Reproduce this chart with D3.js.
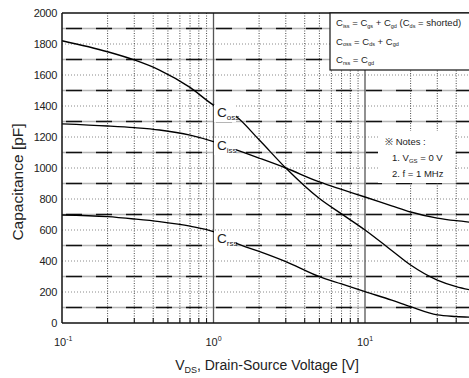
<!DOCTYPE html>
<html>
<head>
<meta charset="utf-8">
<script src="https://cdn.jsdelivr.net/npm/d3@7"></script>
<style>
  html, body { margin: 0; padding: 0; background: #fff; }
  svg { display: block; font-family: "Liberation Sans", Arial, sans-serif; }
</style>
</head>
<body>
<svg id="chart" width="469" height="378"></svg>
<script>
// Drain-source voltage sample points [V]
const vds = [0.1, 0.2, 0.3, 0.44, 0.7, 1, 1.4, 2, 3, 5, 7, 10, 15, 20, 30, 40, 50];
// Capacitances [pF] at each vds point
const ciss = [1285, 1271, 1260, 1245, 1212, 1170, 1118, 1064, 1000, 910, 862, 813, 756, 716, 677, 660, 650];
const coss = [1821, 1750, 1697, 1632, 1520, 1406, 1335, 1182, 1000, 803, 704, 600, 468, 374, 277, 235, 213];
const crss = [697, 686, 671, 654, 625, 589, 515, 462, 396, 299, 252, 202, 148, 105, 52, 42, 37];

const yTicks = [0, 200, 400, 600, 800, 1000, 1200, 1400, 1600, 1800, 2000];
const yDashed = [100, 300, 500, 700, 900, 1100, 1300, 1500, 1700, 1900];
const xTicks = [{ v: 0.1, exp: "-1" }, { v: 1, exp: "0" }, { v: 10, exp: "1" }];

const svg = d3.select("#chart");
const plotLeft = 62, plotTop = 13, plotBottom = 323;
const x = d3.scaleLog().domain([0.1, 50]).range([plotLeft, plotLeft + 151.5 * Math.log10(500)]);
const y = d3.scaleLinear().domain([0, 2000]).range([plotBottom, plotTop]);
const plotRight = x.range()[1];

// minor decade positions (2..9 of each decade)
const minor = [];
[0.1, 1, 10].forEach(d => { for (let k = 2; k <= 9; k++) { const v = d * k; if (v <= 50) minor.push(v); } });

const grid = svg.append("g");
// even-hundred dotted lines
grid.selectAll(".hdot").data(yTicks.filter(t => t > 0 && t < 2000)).join("line")
  .attr("x1", plotLeft).attr("x2", plotRight)
  .attr("y1", d => y(d)).attr("y2", d => y(d))
  .attr("stroke", "#8a8a8a").attr("stroke-width", 1).attr("stroke-dasharray", "1,2");
// odd-hundred lines: grey base with black dashes
grid.selectAll(".hbase").data(yDashed).join("line")
  .attr("x1", plotLeft).attr("x2", plotRight)
  .attr("y1", d => y(d)).attr("y2", d => y(d))
  .attr("stroke", "#b5b5b5").attr("stroke-width", 1.3);
grid.selectAll(".hdash").data(yDashed).join("line")
  .attr("x1", plotLeft).attr("x2", plotRight)
  .attr("y1", d => y(d)).attr("y2", d => y(d))
  .attr("stroke", "#111").attr("stroke-width", 1.3).attr("stroke-dasharray", "16,14")
  .attr("stroke-dashoffset", -4);
// minor vertical dotted lines
grid.selectAll(".vdot").data(minor).join("line")
  .attr("x1", d => x(d)).attr("x2", d => x(d))
  .attr("y1", plotTop).attr("y2", plotBottom)
  .attr("stroke", "#333").attr("stroke-width", 0.9).attr("stroke-dasharray", "1,1.5");
// decade lines
grid.selectAll(".vdec").data([1, 10]).join("line")
  .attr("x1", d => x(d)).attr("x2", d => x(d))
  .attr("y1", plotTop).attr("y2", plotBottom)
  .attr("stroke", "#555").attr("stroke-width", 1.3);

// minor ticks on bottom axis
svg.append("g").selectAll("line").data(minor).join("line")
  .attr("x1", d => x(d)).attr("x2", d => x(d))
  .attr("y1", plotBottom).attr("y2", plotBottom - 5)
  .attr("stroke", "#111").attr("stroke-width", 1);

// notes background
svg.append("rect").attr("x", 378).attr("y", 131).attr("width", 77).attr("height", 52).attr("fill", "#fff");

// curves
const line = d3.line().x((d, i) => x(vds[i])).y(d => y(d)).curve(d3.curveMonotoneX);
[ciss, coss, crss].forEach(s => {
  svg.append("path").attr("d", line(s)).attr("fill", "none")
    .attr("stroke", "#000").attr("stroke-width", 1.35);
});

// frame
svg.append("line").attr("x1", plotLeft).attr("x2", plotRight).attr("y1", plotTop).attr("y2", plotTop).attr("stroke", "#111").attr("stroke-width", 1.3);
svg.append("line").attr("x1", plotLeft).attr("x2", plotRight).attr("y1", plotBottom).attr("y2", plotBottom).attr("stroke", "#111").attr("stroke-width", 1.5);
svg.append("line").attr("x1", plotLeft).attr("x2", plotLeft).attr("y1", plotTop).attr("y2", plotBottom).attr("stroke", "#111").attr("stroke-width", 1.5);

// y tick labels
svg.append("g").selectAll("text").data(yTicks).join("text")
  .attr("x", 57).attr("y", d => y(d) + 4)
  .attr("text-anchor", "end").attr("font-size", 11).attr("fill", "#222")
  .attr("letter-spacing", -0.3)
  .text(d => d);

// x tick labels (powers of ten)
const xt = svg.append("g").selectAll("text").data(xTicks).join("text")
  .attr("x", d => x(d.v) - 8).attr("y", 346)
  .attr("font-size", 11).attr("fill", "#222");
xt.append("tspan").text("10");
xt.append("tspan").attr("dy", -5).attr("font-size", 7).text(d => d.exp);

// helper for text runs with subscripts
function rich(g, parts, size, subSize, shift) {
  let lowered = false;
  parts.forEach(p => {
    const ts = g.append("tspan");
    if (p.sub) {
      ts.attr("font-size", subSize).text(p.sub);
      if (!lowered) ts.attr("dy", shift);
      lowered = true;
    } else {
      ts.attr("font-size", size).text(p.t);
      if (lowered) ts.attr("dy", -shift);
      lowered = false;
    }
  });
}

// axis titles
svg.append("text").attr("transform", "translate(23,182) rotate(-90)")
  .attr("text-anchor", "middle").attr("font-size", 15.5).attr("fill", "#222")
  .text("Capacitance [pF]");
const xtitle = svg.append("text").attr("x", 267).attr("y", 370)
  .attr("text-anchor", "middle").attr("fill", "#222");
rich(xtitle, [{ t: "V" }, { sub: "DS" }, { t: ", Drain-Source Voltage [V]" }], 14, 9, 3);

// curve labels
const curveLabels = [
  { y: 117, sub: "oss" },
  { y: 150, sub: "iss" },
  { y: 243, sub: "rss" }
];
curveLabels.forEach(l => {
  svg.append("rect").attr("x", 214).attr("y", l.y - 12).attr("width", 22).attr("height", 17).attr("fill", "#fff");
  const t = svg.append("text").attr("x", 217).attr("y", l.y).attr("fill", "#222");
  rich(t, [{ t: "C" }, { sub: l.sub }], 13.5, 8, 3);
});

// legend box
svg.append("rect").attr("x", 330).attr("y", 13).attr("width", 150).attr("height", 57)
  .attr("fill", "#fff").attr("stroke", "#111").attr("stroke-width", 1.2);
const legendLines = [
  [{ t: "C" }, { sub: "iss" }, { t: " = C" }, { sub: "gs" }, { t: " + C" }, { sub: "gd" }, { t: " (C" }, { sub: "ds" }, { t: " = shorted)" }],
  [{ t: "C" }, { sub: "oss" }, { t: " = C" }, { sub: "ds" }, { t: " + C" }, { sub: "gd" }],
  [{ t: "C" }, { sub: "rss" }, { t: " = C" }, { sub: "gd" }]
];
legendLines.forEach((parts, i) => {
  const t = svg.append("text").attr("x", 336).attr("y", 26 + i * 18.5).attr("fill", "#222");
  rich(t, parts, 9.5, 5.5, 1.5);
});

// notes
const n0 = svg.append("text").attr("x", 385).attr("y", 145).attr("fill", "#222").attr("font-size", 9.5);
n0.text("※ Notes :");
const n1 = svg.append("text").attr("x", 392).attr("y", 161).attr("fill", "#222");
rich(n1, [{ t: "1. V" }, { sub: "GS" }, { t: " = 0 V" }], 9.5, 6, 1.5);
const n2 = svg.append("text").attr("x", 392).attr("y", 177).attr("fill", "#222");
rich(n2, [{ t: "2. f = 1 MHz" }], 9.5, 6, 1.5);
</script>
</body>
</html>
